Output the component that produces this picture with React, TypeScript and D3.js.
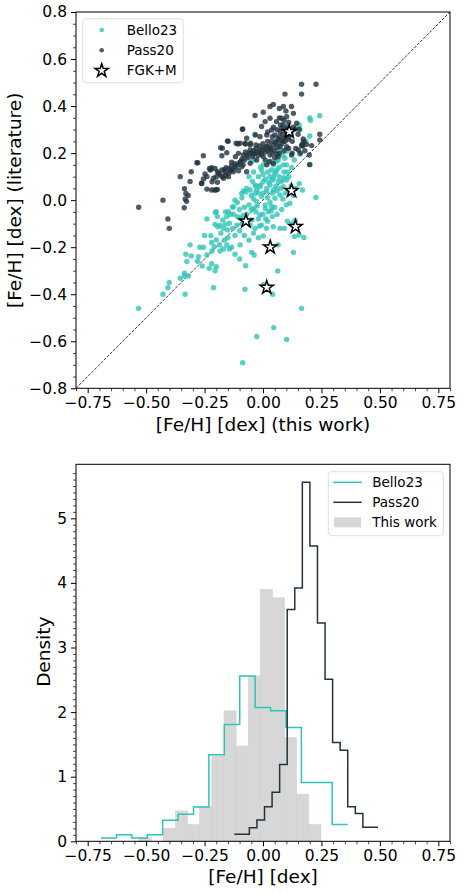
import { useEffect, useRef } from "react";
import * as d3 from "d3";

// [Fe/H] this work vs literature
const bello23: [number, number][] = [
  [-0.532, -0.46], [-0.428, -0.4], [-0.407, -0.372], [-0.401, -0.35], [-0.354, -0.332],
  [-0.333, -0.4], [-0.336, -0.322], [-0.319, -0.322], [-0.212, -0.372], [-0.336, -0.311],
  [-0.326, -0.261], [-0.307, -0.237], [-0.33, -0.23], [-0.312, -0.19], [-0.276, -0.24],
  [-0.27, -0.2], [-0.255, -0.2], [-0.24, -0.233], [-0.22, -0.27], [-0.2, -0.283],
  [-0.24, -0.08], [-0.223, -0.151], [-0.204, -0.052],
  [-0.2, -0.049], [-0.195, -0.07], [-0.205, -0.103], [-0.194, -0.113], [-0.184, -0.108],
  [-0.172, -0.084], [-0.162, -0.103], [-0.155, -0.07], [-0.148, -0.049], [-0.144, -0.098],
  [-0.152, -0.127], [-0.2, -0.169], [-0.186, -0.191], [-0.209, -0.198], [-0.219, -0.216],
  [-0.184, -0.216], [-0.169, -0.208], [-0.155, -0.191], [-0.144, -0.208],
  [-0.12, 0.0], [-0.127, -0.06], [-0.084, 0.039], [-0.055, 0.043], [-0.127, -0.028],
  [-0.091, 0.029], [-0.073, 0.036], [-0.034, 0.064], [-0.027, 0.043],
  [-0.034, 0.029], [-0.013, 0.057], [0.001, 0.079], [0.016, 0.05], [0.03, 0.064],
  [0.044, 0.043], [-0.006, 0.015], [-0.027, -0.006], [-0.041, -0.035], [0.009, -0.021],
  [0.023, -0.049], [-0.013, -0.063], [0.037, -0.028], [0.051, 0.008], [0.073, 0.022],
  [0.087, 0.057], [0.065, 0.079], [0.101, 0.086], [0.155, 0.07], [0.169, 0.043],
  [0.115, -0.013], [0.226, 0.011],
  [0.044, -0.113], [0.073, -0.12], [0.091, -0.12], [0.104, -0.089], [0.137, -0.085],
  [0.122, -0.1], [0.134, -0.155], [0.154, -0.148], [0.175, -0.159],
  [-0.098, -0.077], [-0.048, -0.084], [-0.034, -0.12], [-0.006, -0.106], [-0.055, -0.106],
  [-0.112, -0.106], [0.001, -0.152], [-0.098, -0.19], [-0.134, -0.2], [-0.048, -0.222],
  [-0.038, -0.233], [0.065, -0.19], [0.13, -0.222], [-0.074, -0.279], [0.063, -0.301],
  [-0.077, -0.379], [0.041, -0.4], [0.001, -0.36], [0.165, -0.46], [0.046, -0.542],
  [-0.027, -0.58], [0.101, -0.592], [-0.087, -0.691],
  [0.243, 0.359], [0.2, 0.35], [0.203, 0.34], [0.155, 0.32], [0.2, 0.273],
  [0.184, 0.252], [0.165, 0.235], [0.158, 0.298], [0.2, 0.152], [-0.034, 0.28],
  [0.158, 0.195], [0.134, 0.171], [0.122, 0.138], [0.101, 0.209], [0.073, 0.213],
  [0.087, 0.15], [0.058, 0.164], [0.037, 0.128], [0.001, 0.15], [-0.006, 0.128],
  [-0.034, 0.171], [-0.048, 0.164], [-0.112, 0.142], [0.094, 0.178],
  [-0.06, 0.1], [-0.045, 0.08], [-0.03, 0.06], [-0.02, 0.1], [0.0, 0.11],
  [0.01, 0.09], [0.02, 0.12], [0.03, 0.1], [0.04, 0.085], [0.05, 0.11],
  [0.06, 0.13], [0.07, 0.1], [0.08, 0.08], [0.09, 0.12], [0.1, 0.15],
  [0.11, 0.1], [0.12, 0.06], [0.095, 0.03], [0.075, 0.05], [0.055, 0.06],
  [0.04, 0.03], [0.02, 0.01], [0.0, 0.03], [-0.02, 0.03], [-0.04, 0.005],
  [-0.06, -0.02], [-0.08, -0.03], [-0.1, -0.04], [-0.11, -0.07], [-0.09, -0.1],
  [-0.07, -0.06], [-0.05, -0.04], [-0.03, -0.05], [-0.02, -0.08], [0.0, -0.06],
  [0.01, -0.035], [0.03, -0.01], [0.05, -0.03], [0.06, -0.06], [0.08, -0.04],
  [0.1, -0.02], [0.02, -0.09], [0.04, -0.07], [-0.015, -0.11], [0.015, -0.12],
  [0.11, 0.04], [0.13, 0.02], [0.14, 0.05], [0.065, 0.17], [0.085, 0.19],
  [0.045, 0.15], [0.025, 0.16], [-0.01, 0.14], [-0.04, 0.12], [-0.07, 0.05],
  [-0.09, 0.01], [-0.11, -0.01], [-0.13, -0.03], [-0.14, -0.06], [-0.16, -0.05],
  [-0.17, -0.12], [-0.18, -0.14], [-0.13, -0.12], [-0.12, -0.15], [-0.15, -0.16],
  [-0.165, -0.17], [-0.1, -0.13], [-0.08, -0.15], [-0.06, -0.17], [-0.04, -0.14],
  [-0.02, -0.16], [-0.12, -0.23], [-0.1, -0.25], [-0.22, -0.18], [-0.25, -0.15],
  [-0.28, -0.26], [-0.23, -0.29], [-0.205, -0.3], [-0.26, -0.28],
  [0.015, 0.035], [0.025, 0.075], [0.045, 0.095], [0.06, 0.04], [-0.01, 0.065],
  [0.035, -0.045], [-0.025, -0.025], [0.07, 0.14], [0.09, 0.095], [0.055, 0.12],
  [-0.05, 0.02], [-0.085, -0.065], [0.012, -0.08], [0.085, 0.005], [0.105, 0.12],
];

const pass20: [number, number][] = [
  [-0.532, -0.03], [-0.428, 0.0], [-0.407, -0.08], [-0.401, -0.12], [-0.354, 0.1],
  [-0.312, 0.079], [-0.307, 0.121], [-0.279, 0.159], [-0.255, 0.189], [-0.262, 0.072],
  [-0.336, 0.049], [-0.33, 0.028], [-0.32, 0.02], [-0.327, -0.005], [-0.333, 0.005],
  [-0.337, -0.032], [-0.24, 0.047], [-0.22, 0.043], [-0.2, 0.043], [-0.208, 0.043],
  [-0.195, 0.046], [-0.218, 0.078],
  [-0.176, 0.189], [-0.174, 0.221], [-0.155, 0.202], [-0.152, 0.252], [-0.181, 0.223],
  [-0.149, 0.25], [-0.219, 0.138], [-0.205, 0.135], [-0.226, 0.128], [-0.248, 0.111],
  [-0.195, 0.121], [-0.176, 0.128], [-0.162, 0.118], [-0.144, 0.135], [-0.229, 0.135],
  [-0.222, 0.131], [-0.255, 0.09], [-0.24, 0.1], [-0.212, 0.093], [-0.2, 0.1],
  [-0.195, 0.076], [-0.169, 0.093], [-0.148, 0.1], [-0.263, 0.071], [-0.283, 0.159],
  [-0.19, 0.115], [-0.175, 0.1], [-0.16, 0.105], [-0.165, 0.13], [-0.145, 0.115],
  [-0.13, 0.13], [-0.135, 0.145], [-0.11, 0.15], [-0.1, 0.16], [-0.09, 0.175],
  [-0.08, 0.17], [-0.065, 0.18], [-0.06, 0.2], [-0.045, 0.185], [-0.04, 0.21],
  [-0.02, 0.19], [-0.01, 0.2], [0.0, 0.215], [0.01, 0.205], [0.02, 0.21],
  [0.025, 0.23], [0.035, 0.22], [0.045, 0.235], [0.05, 0.21], [0.06, 0.225],
  [0.065, 0.26], [0.075, 0.255], [0.08, 0.24], [0.085, 0.28], [0.09, 0.265],
  [0.095, 0.3], [0.1, 0.29], [0.105, 0.31], [0.11, 0.26], [0.12, 0.28],
  [0.125, 0.25], [0.02, 0.25], [0.0, 0.24], [-0.015, 0.23], [-0.03, 0.22],
  [-0.05, 0.2], [-0.07, 0.19], [0.04, 0.27], [0.06, 0.3], [0.075, 0.32],
  [0.09, 0.34], [0.11, 0.33], [0.13, 0.31], [0.15, 0.28], [0.14, 0.22],
  [0.16, 0.2], [0.17, 0.24], [-0.12, 0.14], [-0.105, 0.125], [-0.085, 0.15],
  [0.01, 0.17], [0.03, 0.165], [0.05, 0.18], [0.07, 0.2], [0.09, 0.21],
  [0.11, 0.22], [0.125, 0.2], [0.02, 0.29], [0.045, 0.31], [0.07, 0.35],
  [-0.115, 0.242], [-0.098, 0.242], [-0.077, 0.242], [-0.055, 0.235], [-0.07, 0.263],
  [-0.105, 0.199], [-0.084, 0.192], [-0.034, 0.199], [-0.013, 0.213], [0.016, 0.227],
  [0.037, 0.249], [0.051, 0.277], [0.058, 0.242], [0.073, 0.227], [0.001, 0.185],
  [0.03, 0.192], [-0.055, 0.157], [-0.027, 0.171], [-0.134, 0.161], [-0.127, 0.121],
  [-0.091, 0.142], [-0.07, 0.121], [0.016, 0.277], [0.037, 0.298], [0.073, 0.291],
  [0.087, 0.32], [0.03, 0.348], [0.009, 0.334], [-0.013, 0.27], [-0.055, 0.213],
  [0.108, 0.27], [0.087, 0.249], [0.101, 0.227], [0.122, 0.192], [0.065, 0.185],
  [0.044, 0.157], [0.016, 0.15], [-0.118, 0.185], [-0.107, 0.239], [-0.088, 0.301],
  [-0.075, 0.239], [-0.053, 0.242], [-0.033, 0.277],
  [0.165, 0.493], [0.227, 0.493], [0.165, 0.451], [0.094, 0.451], [0.087, 0.398],
  [0.122, 0.398], [0.13, 0.369], [0.101, 0.355], [0.07, 0.39], [0.044, 0.407],
  [0.03, 0.398], [0.001, 0.374], [-0.034, 0.36], [-0.087, 0.303], [-0.006, 0.313],
  [0.058, 0.334], [0.08, 0.348], [0.098, 0.379], [0.144, 0.327], [0.137, 0.303],
  [0.155, 0.302], [0.172, 0.26], [0.243, 0.28], [0.243, 0.256], [0.186, 0.237],
  [0.208, 0.232], [0.165, 0.232], [0.151, 0.213], [0.198, 0.192], [0.2, 0.151],
  [0.179, 0.21], [0.17, 0.23], [0.175, 0.25],
  [-0.185, 0.108], [-0.158, 0.138], [-0.14, 0.125], [-0.12, 0.155], [-0.095, 0.165],
  [-0.075, 0.205], [-0.04, 0.195], [-0.02, 0.205], [0.005, 0.225], [0.03, 0.215],
  [0.055, 0.25], [0.07, 0.27], [0.095, 0.25], [0.105, 0.285], [0.08, 0.305],
  [0.06, 0.195], [0.04, 0.2], [-0.005, 0.195], [-0.03, 0.235], [0.115, 0.3],
];

const fgkm: [number, number][] = [
  [0.112, 0.291], [0.122, 0.04], [0.139, -0.113], [0.031, -0.2], [0.016, -0.371], [-0.073, -0.089],
];

// histograms (density)
const workRange = [-0.53, 0.248];
const workDensity = [0.054, 0, 0.2, 0.47, 0.26, 0.54, 1.32, 2.02, 1.475, 2.56, 3.9, 3.77, 1.61, 0.73, 0.26];
const belloRange = [-0.693, 0.362];
const belloDensity = [0.05, 0.1, 0.05, 0.1, 0.325, 0.42, 0.53, 1.34, 1.81, 2.56, 2.07, 2.02, 1.76, 0.91, 0.91, 0.26];
const passRange = [-0.123, 0.492];
const passDensity = [0.108, 0.108, 0.21, 0.33, 0.536, 0.758, 1.19, 3.59, 3.92, 5.56, 4.57, 3.38, 2.51, 1.53, 1.41, 0.536, 0.43, 0.217, 0.217];

const xTicks = [-0.75, -0.5, -0.25, 0, 0.25, 0.5, 0.75];
const yTicksTop = [-0.8, -0.6, -0.4, -0.2, 0, 0.2, 0.4, 0.6, 0.8];
const yTicksHist = [0, 1, 2, 3, 4, 5];

const TEAL = "#2ec4b6";
const DARK = "#22333f";
const FONT = "'DejaVu Sans', sans-serif";

function edges(range: number[], n: number) {
  const w = (range[1] - range[0]) / n;
  return d3.range(n + 1).map((i) => range[0] + i * w);
}

export default function App() {
  const svgRef = useRef<SVGSVGElement>(null);

  useEffect(() => {
    const svg = d3.select(svgRef.current);
    svg.selectAll("*").remove();

    const x = d3.scaleLinear().domain([-0.8, 0.8]).range([76, 450]);
    const yTop = d3.scaleLinear().domain([-0.8, 0.8]).range([388.3, 12]);
    const yHist = d3.scaleLinear().domain([0, 5.836]).range([841.3, 464.3]);

    const styleAxis = (g: any, size: number) => {
      g.select(".domain").remove();
      g.selectAll(".tick line").attr("stroke", "#000").attr("stroke-width", 1);
      g.selectAll(".tick text")
        .attr("fill", "#000")
        .style("font-family", FONT)
        .style("font-size", size + "px");
    };

    const minorAxis = (g: any, axis: any) => {
      g.call(axis.tickSize(3).tickFormat(() => ""));
      g.select(".domain").remove();
      g.selectAll(".tick line").attr("stroke", "#000").attr("stroke-width", 0.7);
    };

    const xMinor = d3.range(-0.8, 0.8001, 0.05).filter((v) => !xTicks.some((t) => Math.abs(t - v) < 1e-6));

    // ---------- top panel: scatter ----------
    const top = svg.append("g");
    top.append("defs").append("clipPath").attr("id", "clipTop")
      .append("rect").attr("x", 76).attr("y", 12).attr("width", 374).attr("height", 376.3);

    const plot = top.append("g").attr("clip-path", "url(#clipTop)");

    plot.append("line")
      .attr("x1", x(-0.8)).attr("y1", yTop(-0.8))
      .attr("x2", x(0.8)).attr("y2", yTop(0.8))
      .attr("stroke", "#000").attr("stroke-width", 0.8)
      .attr("stroke-dasharray", "3,1.4");

    plot.append("g").selectAll("circle").data(bello23).join("circle")
      .attr("cx", (d) => x(d[0])).attr("cy", (d) => yTop(d[1]))
      .attr("r", 2.7).attr("fill", TEAL).attr("fill-opacity", 0.8);

    plot.append("g").selectAll("circle").data(pass20).join("circle")
      .attr("cx", (d) => x(d[0])).attr("cy", (d) => yTop(d[1]))
      .attr("r", 2.7).attr("fill", DARK).attr("fill-opacity", 0.8);

    const star = d3.symbol().type(d3.symbolStar).size(55);
    plot.append("g").selectAll("path").data(fgkm).join("path")
      .attr("transform", (d) => `translate(${x(d[0])},${yTop(d[1])})`)
      .attr("d", star() as string)
      .attr("fill", "#fff").attr("stroke", "#000").attr("stroke-width", 1.5)
      .attr("stroke-linejoin", "miter");

    top.append("rect").attr("x", 76).attr("y", 12).attr("width", 374).attr("height", 376.3)
      .attr("fill", "none").attr("stroke", "#000").attr("stroke-width", 1);

    top.append("g").attr("transform", "translate(0,388.3)")
      .call(d3.axisBottom(x).tickValues(xTicks).tickSize(5).tickPadding(3.5).tickFormat(d3.format(".2f")))
      .call((g) => styleAxis(g, 15.5));
    top.append("g").attr("transform", "translate(0,388.3)")
      .call((g) => minorAxis(g, d3.axisBottom(x).tickValues(xMinor)));

    top.append("g").attr("transform", "translate(76,0)")
      .call(d3.axisLeft(yTop).tickValues(yTicksTop).tickSize(5).tickPadding(4).tickFormat(d3.format(".1f")))
      .call((g) => styleAxis(g, 15.5));
    const yMinorTop = d3.range(-0.8, 0.8001, 0.05).filter((v) => !yTicksTop.some((t) => Math.abs(t - v) < 1e-6));
    top.append("g").attr("transform", "translate(76,0)")
      .call((g) => minorAxis(g, d3.axisLeft(yTop).tickValues(yMinorTop)));

    top.append("text").attr("x", 263).attr("y", 430.5).attr("text-anchor", "middle")
      .style("font-family", FONT).style("font-size", "18.5px").text("[Fe/H] [dex] (this work)");
    top.append("text").attr("transform", "translate(21,200.3) rotate(-90)").attr("text-anchor", "middle")
      .style("font-family", FONT).style("font-size", "18.5px").text("[Fe/H] [dex] (literature)");

    // legend top
    const lgTop = top.append("g");
    lgTop.append("rect").attr("x", 82.7).attr("y", 18.7).attr("width", 100.6).attr("height", 64)
      .attr("rx", 3).attr("fill", "#fff").attr("fill-opacity", 0.8)
      .attr("stroke", "#d5d5d5").attr("stroke-width", 0.8);
    const topItems = [
      { label: "Bello23", kind: "dot", color: TEAL },
      { label: "Pass20", kind: "dot", color: DARK },
      { label: "FGK+M", kind: "star", color: "#000" },
    ];
    topItems.forEach((it, i) => {
      const cy = 30 + i * 20.3;
      if (it.kind === "dot") {
        lgTop.append("circle").attr("cx", 101.7).attr("cy", cy).attr("r", 2.3)
          .attr("fill", it.color).attr("fill-opacity", 0.8);
      } else {
        lgTop.append("path").attr("transform", `translate(101.7,${cy})`).attr("d", star() as string)
          .attr("fill", "#fff").attr("stroke", "#000").attr("stroke-width", 1.5);
      }
      lgTop.append("text").attr("x", 126.7).attr("y", cy).attr("dy", "0.36em")
        .style("font-family", FONT).style("font-size", "13.5px").text(it.label);
    });

    // ---------- bottom panel: histograms ----------
    const bot = svg.append("g");

    const we = edges(workRange, workDensity.length);
    bot.append("g").selectAll("rect").data(workDensity).join("rect")
      .attr("x", (_, i) => x(we[i])).attr("width", (_, i) => x(we[i + 1]) - x(we[i]))
      .attr("y", (d) => yHist(d)).attr("height", (d) => yHist(0) - yHist(d))
      .attr("fill", "#d3d3d3").attr("fill-opacity", 0.9)
      .attr("stroke", "#cfcfcf").attr("stroke-width", 0.5);

    const stepLine = d3.line<[number, number]>()
      .x((d) => x(d[0])).y((d) => yHist(d[1])).curve(d3.curveStepAfter);
    const stepPts = (range: number[], dens: number[]): [number, number][] => {
      const e = edges(range, dens.length);
      const pts: [number, number][] = dens.map((d, i) => [e[i], d]);
      pts.push([e[dens.length], dens[dens.length - 1]]);
      return pts;
    };

    bot.append("path").attr("d", stepLine(stepPts(belloRange, belloDensity)))
      .attr("fill", "none").attr("stroke", TEAL).attr("stroke-width", 1.5);
    bot.append("path").attr("d", stepLine(stepPts(passRange, passDensity)))
      .attr("fill", "none").attr("stroke", DARK).attr("stroke-width", 1.5);

    bot.append("rect").attr("x", 76).attr("y", 464.3).attr("width", 374).attr("height", 377)
      .attr("fill", "none").attr("stroke", "#000").attr("stroke-width", 1);

    bot.append("g").attr("transform", "translate(0,841.3)")
      .call(d3.axisBottom(x).tickValues(xTicks).tickSize(5).tickPadding(3.5).tickFormat(d3.format(".2f")))
      .call((g) => styleAxis(g, 15.5));
    bot.append("g").attr("transform", "translate(0,841.3)")
      .call((g) => minorAxis(g, d3.axisBottom(x).tickValues(xMinor)));

    bot.append("g").attr("transform", "translate(76,0)")
      .call(d3.axisLeft(yHist).tickValues(yTicksHist).tickSize(5).tickPadding(4).tickFormat(d3.format("d")))
      .call((g) => styleAxis(g, 15.5));
    const yMinorHist = d3.range(0, 5.8, 0.1).filter((v) => !yTicksHist.some((t) => Math.abs(t - v) < 1e-6));
    bot.append("g").attr("transform", "translate(76,0)")
      .call((g) => minorAxis(g, d3.axisLeft(yHist).tickValues(yMinorHist)));

    bot.append("text").attr("x", 263).attr("y", 882.5).attr("text-anchor", "middle")
      .style("font-family", FONT).style("font-size", "18.5px").text("[Fe/H] [dex]");
    bot.append("text").attr("transform", "translate(49.5,651.7) rotate(-90)").attr("text-anchor", "middle")
      .style("font-family", FONT).style("font-size", "18.5px").text("Density");

    // legend bottom
    const lgBot = bot.append("g");
    lgBot.append("rect").attr("x", 328.3).attr("y", 471.7).attr("width", 115).attr("height", 64)
      .attr("rx", 3).attr("fill", "#fff").attr("fill-opacity", 0.8)
      .attr("stroke", "#d5d5d5").attr("stroke-width", 0.8);
    const botItems = [
      { label: "Bello23", kind: "line", color: TEAL },
      { label: "Pass20", kind: "line", color: DARK },
      { label: "This work", kind: "patch", color: "#d3d3d3" },
    ];
    botItems.forEach((it, i) => {
      const cy = 482.3 + i * 20;
      if (it.kind === "line") {
        lgBot.append("line").attr("x1", 333.3).attr("x2", 361.7).attr("y1", cy).attr("y2", cy)
          .attr("stroke", it.color).attr("stroke-width", 1.5);
      } else {
        lgBot.append("rect").attr("x", 334).attr("y", cy - 5).attr("width", 27).attr("height", 10)
          .attr("fill", it.color).attr("fill-opacity", 0.9);
      }
      lgBot.append("text").attr("x", 372.3).attr("y", cy).attr("dy", "0.36em")
        .style("font-family", FONT).style("font-size", "13.5px").text(it.label);
    });
  }, []);

  return (
    <svg
      ref={svgRef}
      width={463}
      height={893}
      style={{ position: "absolute", left: 0, top: 0, background: "#fff" }}
    />
  );
}
